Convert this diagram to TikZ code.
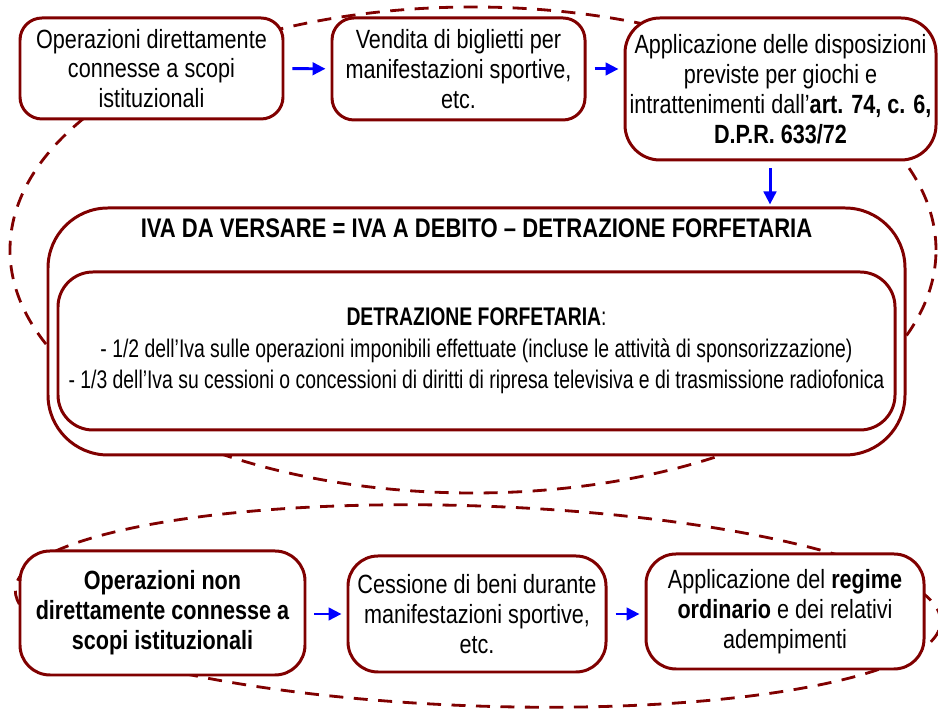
\documentclass[tikz,border=0pt]{standalone}
\usepackage{fontspec}
\setmainfont{Liberation Sans}[FakeStretch=0.82]
\usetikzlibrary{arrows.meta,positioning}
\definecolor{boxColor}{HTML}{800000}
\definecolor{flowColor}{HTML}{0000FF}
\tikzset{
	box/.style={draw=boxColor, line width=1.7pt, fill=white, align=center, inner sep=0pt,
		font=\fontsize{15}{17}\selectfont},
	flow/.style={draw=flowColor, line width=1.7pt, -{Triangle[length=2.6mm,width=2.5mm]},
		shorten <=1.6mm, shorten >=1mm},
	group/.style={draw=boxColor, line width=1.6pt, dash pattern=on 2.8mm off 2.1mm}
}

\begin{document}
\begin{tikzpicture}
\useasboundingbox (0,0) rectangle (18.76,14.18);
\draw[group] (9.46,9.18) ellipse [x radius=9.26, y radius=4.86];
\draw[group, rotate around={-2:(9.56,2.06)}] (9.56,2.06) ellipse [x radius=9.26, y radius=2.0];

\node[box, rounded corners=4.4mm, minimum width=5.26cm, minimum height=2.02cm] (dir1) at (3.03,12.81) {Operazioni direttamente\\connesse a scopi\\istituzionali};
\node[box, rounded corners=4.4mm, minimum width=5.06cm, minimum height=2.04cm] (dir2) at (9.17,12.80) {Vendita di biglietti per\\manifestazioni sportive,\\etc.};
\node[box, rounded corners=7mm, minimum width=6.22cm, minimum height=2.84cm] (dir3) at (15.61,12.40) {Applicazione delle disposizioni\\previste per giochi e\\intrattenimenti dall’\textbf{art. 74, c. 6,}\\\textbf{D.P.R. 633/72}};

\node[box, rounded corners=12mm, minimum width=17.14cm, minimum height=4.94cm] (iva) at (9.53,7.55) {};
\node[font=\bfseries\fontsize{15.3}{17}\selectfont, below=0.12cm of iva.north] (ivaT) {IVA DA VERSARE = IVA A DEBITO – DETRAZIONE FORFETARIA};
\node[box, rounded corners=7mm, minimum width=16.74cm, minimum height=3.16cm, font=\fontsize{14.5}{18}\selectfont\addfontfeatures{FakeStretch=0.76}] (detr) at (9.53,7.16) {\textbf{DETRAZIONE FORFETARIA}:\\- 1/2 dell’Iva sulle operazioni imponibili effettuate (incluse le attività di sponsorizzazione)\\- 1/3 dell’Iva su cessioni o concessioni di diritti di ripresa televisiva e di trasmissione radiofonica};

\node[box, rounded corners=6mm, minimum width=5.70cm, minimum height=2.48cm, font=\bfseries\fontsize{15}{17}\selectfont] (ind1) at (3.25,1.92) {Operazioni non\\direttamente connesse a\\scopi istituzionali};
\node[box, rounded corners=6mm, minimum width=5.16cm, minimum height=2.32cm] (ind2) at (9.54,1.90) {Cessione di beni durante\\manifestazioni sportive,\\etc.};
\node[box, rounded corners=6mm, minimum width=5.56cm, minimum height=2.30cm] (ind3) at (15.70,1.95) {Applicazione del \textbf{regime}\\\textbf{ordinario} e dei relativi\\adempimenti};

\draw[flow] (dir1) -- (dir2);
\draw[flow] (dir2) -- (dir3.west |- dir2);
\draw[flow, shorten <=1.4mm, shorten >=0.4mm] ([xshift=-2.1mm]dir3.south) -- ([xshift=-2.1mm]dir3.south |- iva.north);
\draw[flow] (ind1.east |- ind2) -- (ind2);
\draw[flow] (ind2) -- (ind3.west |- ind2);
\end{tikzpicture}
\end{document}
